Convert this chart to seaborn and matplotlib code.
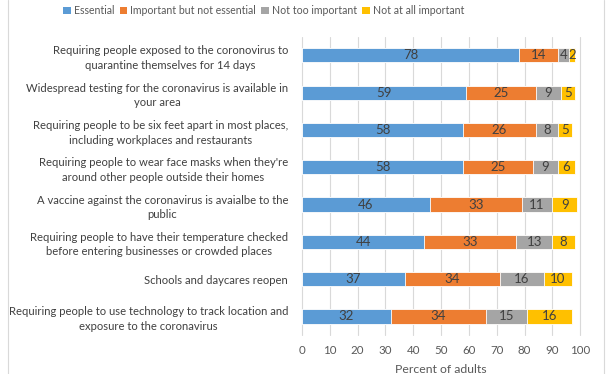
import numpy as np
import pandas as pd
import seaborn as sns
import matplotlib.pyplot as plt
from matplotlib.patches import Patch
from matplotlib.lines import Line2D

categories = [
    "Requiring people exposed to the coronovirus to\nquarantine themselves for 14 days",
    "Widespread testing for the coronavirus is available in\nyour area",
    "Requiring people to be six feet apart in most places,\nincluding workplaces and restaurants",
    "Requiring people to wear face masks when they're\naround other people outside their homes",
    "A vaccine against the coronavirus is avaialbe to the\npublic",
    "Requiring people to have their temperature checked\nbefore entering businesses or crowded places",
    "Schools and daycares reopen",
    "Requiring people to use technology to track location and\nexposure to the coronavirus",
]
series = ["Essential", "Important but not essential", "Not too important", "Not at all important"]
essential = [78, 59, 58, 58, 46, 44, 37, 32]
important = [14, 25, 26, 25, 33, 33, 34, 34]
not_too = [4, 9, 8, 9, 11, 13, 16, 15]
not_at_all = [2, 5, 5, 6, 9, 8, 10, 16]
colors = ["#5B9BD5", "#ED7D31", "#A5A5A5", "#FFC000"]
xticks = list(range(0, 101, 10))

sns.set_style("white")
plt.rcParams['font.family'] = ['Lato', 'DejaVu Sans']

vals = np.array([essential, important, not_too, not_at_all], dtype=float)
cum = np.cumsum(vals, axis=0)

fig = plt.figure(figsize=(6.12, 3.74), dpi=100)
ax = fig.add_axes([0.4935, 0.104, 0.4545, 0.798])

# stacked bars: draw longest cumulative first, shorter ones on top
for i in range(3, -1, -1):
    df = pd.DataFrame({"cat": categories, "val": cum[i]})
    sns.barplot(data=df, x="val", y="cat", orient="h", color=colors[i],
                saturation=1, width=0.38, ax=ax, edgecolor="white", linewidth=0.6)

for i in range(4):
    start = cum[i] - vals[i]
    for j in range(len(categories)):
        ax.text(start[j] + vals[i][j] / 2, j, str(int(vals[i][j])), ha="center", va="center",
                fontsize=9.5, color="#404040")

ax.set_xlim(0, 100)
ax.set_ylim(7.5, -0.5)
ax.set_xticks(xticks)
ax.tick_params(axis="x", labelsize=8.3, colors="#595959", length=0, pad=7)
ax.tick_params(axis="y", labelsize=8.1, colors="#404040", length=0, pad=10)
for lbl in ax.get_yticklabels():
    lbl.set_multialignment("center")
    lbl.set_linespacing(1.4)
ax.grid(axis="x", color="#D9D9D9", linewidth=0.8)
for gl in ax.get_xgridlines():
    gl.set_clip_on(False)
ax.set_axisbelow(True)
for s in ax.spines.values():
    s.set_visible(False)
ax.set_ylabel("")
ax.set_xlabel("Percent of adults", fontsize=8.8, color="#595959", labelpad=6)

handles = [Patch(facecolor=c, edgecolor="none") for c in colors]
fig.legend(handles, series, loc="center", bbox_to_anchor=(0.431, 0.972), ncol=4,
           frameon=False, fontsize=7.6, handlelength=0.7, handleheight=0.7,
           handletextpad=0.3, columnspacing=0.5, labelcolor="#595959")

fig.add_artist(Line2D([0.013, 0.013], [0, 1], transform=fig.transFigure, color="#D9D9D9", linewidth=0.8))
fig.add_artist(Line2D([0.987, 0.987], [0, 1], transform=fig.transFigure, color="#D9D9D9", linewidth=0.8))

fig.savefig("out.png", dpi=100)
